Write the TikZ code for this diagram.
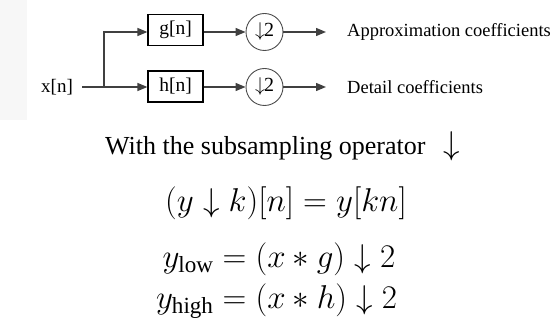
\RequirePackage{fix-cm}
\documentclass[tikz,border=0pt]{standalone}
\usepackage{amsmath}
\usepackage{fontspec}
\setmainfont{Liberation Serif}
\usetikzlibrary{arrows.meta}
\tikzset{
  conn/.style={draw=black!75, line width=1.3pt},
  arr/.style={conn, -{Triangle[length=10pt,width=8pt]}},
  filt/.style={draw=black, line width=1.2pt, minimum width=55pt, minimum height=31pt, inner sep=0pt, font=\fontsize{19.5}{21}\selectfont},
  down/.style={circle, draw=black!70, line width=0.9pt, minimum size=37pt, inner sep=0pt, font=\fontsize{20}{21}\selectfont},
  lbl/.style={inner sep=0pt, font=\fontsize{18.5}{20}\selectfont},
  big/.style={inner sep=0pt, font=\fontsize{26}{31}\selectfont},
  eq/.style={inner sep=0pt, font=\fontsize{33}{38}\selectfont}
}
\begin{document}
\begin{tikzpicture}[x=1pt,y=-1pt]
\useasboundingbox (0,0) rectangle (555,320);
\fill[black!3] (0,0) rectangle (27,120);
% blocks
\node[lbl, inner xsep=9pt, font=\fontsize{19}{20}\selectfont] (xn) at (57,87) {x[n]};
\node[filt] (g) at (175.5,30) {g[n]};
\node[filt] (h) at (175.5,86.5) {h[n]};
\node[down] (d1) at (264.5,32) {$\downarrow$\kern-1pt2};
\node[down] (d2) at (264.5,87) {$\downarrow$\kern-1pt2};
\coordinate (sp) at (104,87);
\coordinate (o1) at (326,32);
\coordinate (o2) at (326,87);
\node[lbl, anchor=west] (ta) at (347,32) {Approximation coefficients};
\node[lbl, anchor=west] (td) at (347,87) {Detail coefficients};
% connectors
\draw[conn] (xn.east) -- (sp);
\draw[arr] (sp) -- (h.west |- d2);
\draw[arr] (sp) |- (g.west |- d1);
\draw[arr] (g.east |- d1) -- (d1);
\draw[arr] (h.east |- d2) -- (d2);
\draw[arr] (d1) -- (o1);
\draw[arr] (d2) -- (o2);
% text below
\node[big, anchor=base west] (sub) at (105,155) {With the subsampling operator\hspace{0.7em}{\fontsize{33}{36}\selectfont$\downarrow$}};
\node[eq, anchor=base] (f1) at (286,212) {$(y\downarrow k)[n] = y[kn]$};
\node[eq, anchor=west] (f2) at (156,280) {$\begin{aligned} y_{\mathrm{low}} &= (x*g)\downarrow 2\\ y_{\mathrm{high}} &= (x*h)\downarrow 2\end{aligned}$};
\end{tikzpicture}
\end{document}
